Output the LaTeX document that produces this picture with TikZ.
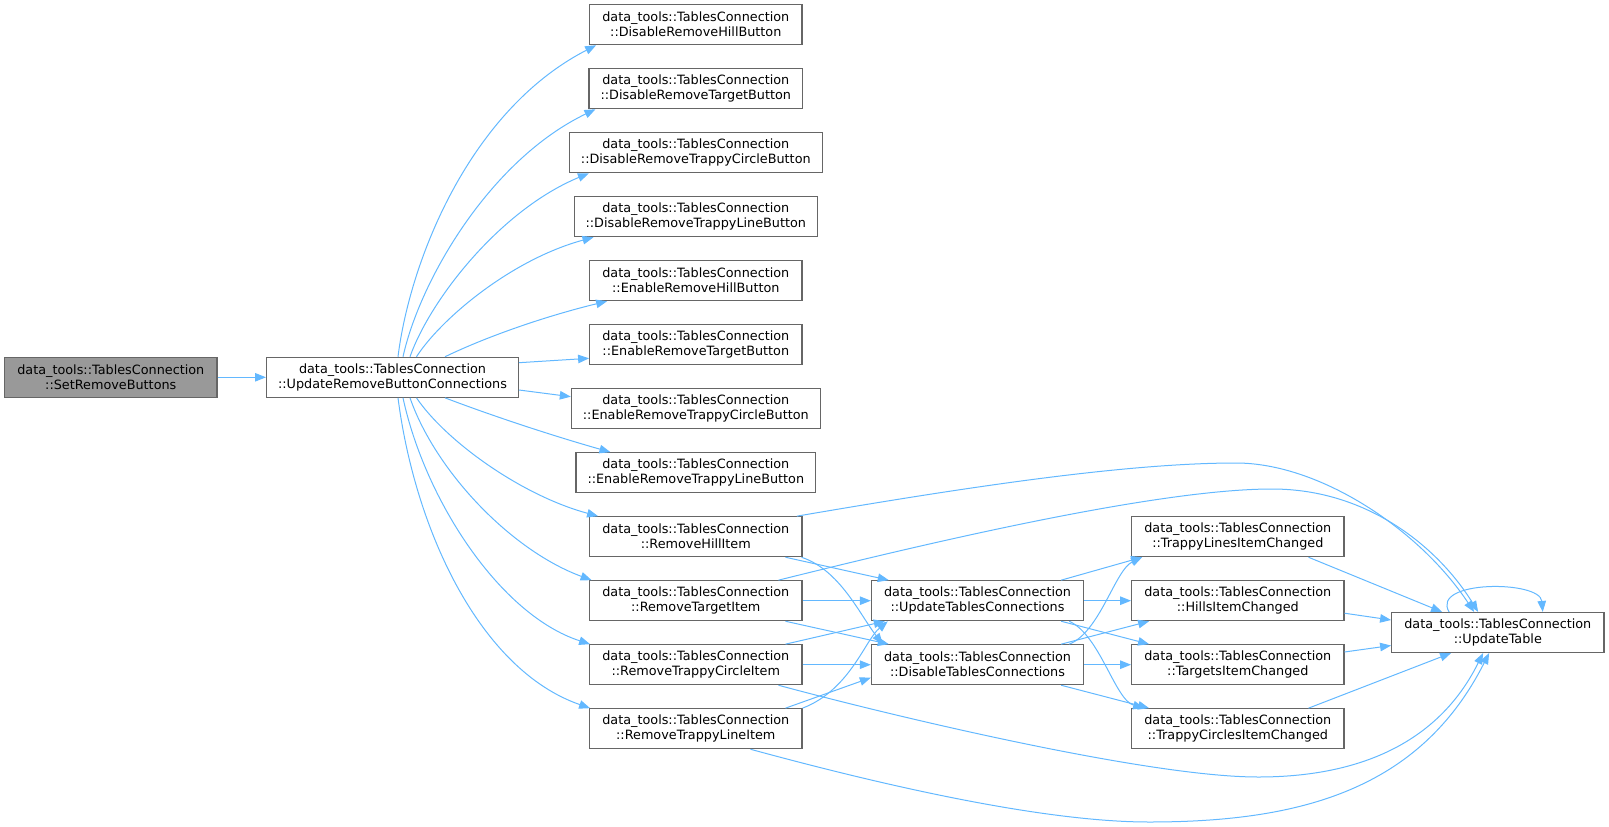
\documentclass[tikz,border=0pt]{standalone}
\usepackage{fontspec}
\setmainfont{DejaVu Sans}
\usetikzlibrary{arrows.meta,calc}

\definecolor{edgeblue}{HTML}{63B8FF}
\definecolor{boxline}{HTML}{666666}
\definecolor{boxfill}{HTML}{999999}
\newcommand{\fnsize}{\fontsize{12.8}{15}\selectfont}

\tikzset{
  fn/.style={draw=boxline, fill=white, line width=1.1pt, align=center, font=\fnsize,
    inner xsep=11.5pt, inner ysep=0pt, minimum width=212.3pt, minimum height=40pt},
  fnroot/.style={fn, fill=boxfill},
  call/.style={draw=edgeblue, line width=1pt, -{Triangle[length=11pt,width=8.5pt]}},
}

\begin{document}
\begin{tikzpicture}[x=1pt,y=-1pt]
        \useasboundingbox (0,0) rectangle (1609,827);
        
        % Caller and first callee
        \node [fnroot] (setrm) at (110.8,377.3) {data\_tools::TablesConnection\\::SetRemoveButtons};%
        \node [fn] (updrbc) at (392.5,377.3) {data\_tools::TablesConnection\\::UpdateRemoveButtonConnections};%
        
        % Column of buttons and items
        \node [fn] (drhill) at (695.8,24.7) {data\_tools::TablesConnection\\::DisableRemoveHillButton};%
        \node [fn] (drtgt) at (695.8,88.7) {data\_tools::TablesConnection\\::DisableRemoveTargetButton};%
        \node [fn] (drtc) at (695.8,152.7) {data\_tools::TablesConnection\\::DisableRemoveTrappyCircleButton};%
        \node [fn] (drtl) at (695.8,216.7) {data\_tools::TablesConnection\\::DisableRemoveTrappyLineButton};%
        \node [fn] (erhill) at (695.8,280.7) {data\_tools::TablesConnection\\::EnableRemoveHillButton};%
        \node [fn] (ertgt) at (695.8,344.7) {data\_tools::TablesConnection\\::EnableRemoveTargetButton};%
        \node [fn] (ertc) at (695.8,408.7) {data\_tools::TablesConnection\\::EnableRemoveTrappyCircleButton};%
        \node [fn] (ertl) at (695.8,472.7) {data\_tools::TablesConnection\\::EnableRemoveTrappyLineButton};%
        \node [fn] (rhill) at (695.8,536.7) {data\_tools::TablesConnection\\::RemoveHillItem};%
        \node [fn] (rtgt) at (695.8,600.7) {data\_tools::TablesConnection\\::RemoveTargetItem};%
        \node [fn] (rtc) at (695.8,664.7) {data\_tools::TablesConnection\\::RemoveTrappyCircleItem};%
        \node [fn] (rtl) at (695.8,728.7) {data\_tools::TablesConnection\\::RemoveTrappyLineItem};%
        
        % Table connections
        \node [fn] (uptc) at (977.5,600.7) {data\_tools::TablesConnection\\::UpdateTablesConnections};%
        \node [fn] (dtc) at (977.5,664.7) {data\_tools::TablesConnection\\::DisableTablesConnections};%
        
        % Item changed handlers
        \node [fn] (tlc) at (1237.8,536.7) {data\_tools::TablesConnection\\::TrappyLinesItemChanged};%
        \node [fn] (hic) at (1237.8,600.7) {data\_tools::TablesConnection\\::HillsItemChanged};%
        \node [fn] (tic) at (1237.8,664.7) {data\_tools::TablesConnection\\::TargetsItemChanged};%
        \node [fn] (tcc) at (1237.8,728.7) {data\_tools::TablesConnection\\::TrappyCirclesItemChanged};%
        
        % Table update
        \node [fn] (updt) at (1497.8,632.5) {data\_tools::TablesConnection\\::UpdateTable};%
        
        % Calls from SetRemoveButtons
        \draw [call] (setrm.east) -- (updrbc.west);%
        
        % Calls from UpdateRemoveButtonConnections, upwards
        \draw [call] ($(updrbc.north)+(5.5,0)$) .. controls (410,260) and (470,110) .. ($(drhill.south west)+(7,0)$);%
        \draw [call] ($(updrbc.north)+(10.5,0)$) .. controls (420,280) and (490,160) .. ($(drtgt.south west)+(7,0)$);%
        \draw [call] ($(updrbc.north)+(17.5,0)$) .. controls (430,300) and (500,210) .. ($(drtc.south west)+(20,0)$);%
        \draw [call] ($(updrbc.north)+(24,0)$) .. controls (440,320) and (510,260) .. ($(drtl.south west)+(20,0)$);%
        \draw [call] ($(updrbc.north)+(52.5,0)$) .. controls (490,335) and (550,315) .. ($(erhill.south west)+(18,0)$);%
        
        % Calls from UpdateRemoveButtonConnections, sideways
        \draw [call] ($(updrbc.east)+(0,-14.6)$) -- ($(ertgt.west)+(0,13.6)$);%
        \draw [call] ($(updrbc.east)+(0,12.7)$) -- ($(ertc.west)+(0,-12)$);%
        
        % Calls from UpdateRemoveButtonConnections, downwards
        \draw [call] ($(updrbc.south)+(52.5,0)$) .. controls (490,415) and (550,435) .. ($(ertl.north west)+(35,0)$);%
        \draw [call] ($(updrbc.south)+(24,0)$) .. controls (445,440) and (520,495) .. ($(rhill.north west)+(9,0)$);%
        \draw [call] ($(updrbc.south)+(17.5,0)$) .. controls (435,470) and (510,550) .. ($(rtgt.north west)+(2.5,0)$);%
        \draw [call] ($(updrbc.south)+(10.5,0)$) .. controls (425,500) and (500,615) .. ($(rtc.north west)+(1,0)$);%
        \draw [call] ($(updrbc.south)+(5.5,0)$) .. controls (415,530) and (480,670) .. ($(rtl.north west)+(1,0)$);%
        
        % Calls from RemoveHillItem
        \draw [call] ($(rhill.north east)+(-5.6,0)$) .. controls (950,490) and (1120,463) .. (1236,463) .. controls (1320,463) and (1420,530) .. ($(updt.north west)+(83,0)$);%
        \draw [call] ($(rhill.south east)+(-17,0)$) -- ($(uptc.north west)+(18,0)$);%
        \draw [call] ($(rhill.south east)+(-1,0)$) .. controls (840,570) and (860,615) .. ($(dtc.north west)+(12,0)$);%
        
        % Calls from RemoveTargetItem
        \draw [call] ($(rtgt.north east)+(-24,0)$) .. controls (900,550) and (1150,489) .. (1272,489) .. controls (1370,489) and (1440,550) .. ($(updt.north west)+(87,0)$);%
        \draw [call] (rtgt.east) -- (uptc.west);%
        \draw [call] ($(rtgt.south east)+(-17,0)$) -- ($(dtc.north west)+(18,0)$);%
        
        % Calls from RemoveTrappyCircleItem
        \draw [call] ($(rtc.north east)+(-17,0)$) -- ($(uptc.south west)+(14,0)$);%
        \draw [call] (rtc.east) -- (dtc.west);%
        \draw [call] ($(rtc.south east)+(-24,0)$) .. controls (900,718) and (1150,777) .. (1258,777) .. controls (1330,777) and (1430,760) .. ($(updt.south west)+(92,0)$);%
        
        % Calls from RemoveTrappyLineItem
        \draw [call] (rtl.north east) .. controls (850,690) and (865,640) .. ($(uptc.south west)+(17,0)$);%
        \draw [call] ($(rtl.north east)+(-17,0)$) -- ($(dtc.west)+(0,13)$);%
        \draw [call] ($(rtl.south east)+(-52,0)$) .. controls (900,790) and (1050,822) .. (1149,822) .. controls (1300,822) and (1420,790) .. ($(updt.south west)+(98,0)$);%
        
        % Calls from UpdateTablesConnections
        \draw [call] ($(uptc.north east)+(-23,0)$) -- ($(tlc.south west)+(11,0)$);%
        \draw [call] (uptc.east) -- (hic.west);%
        \draw [call] ($(uptc.south east)+(-23,0)$) -- ($(tic.north west)+(18,0)$);%
        \draw [call] ($(uptc.south east)+(-15,0)$) .. controls (1100,635) and (1115,700) .. ($(tcc.north west)+(13,0)$);%
        
        % Calls from DisableTablesConnections
        \draw [call] ($(dtc.north east)+(-15,0)$) .. controls (1100,632) and (1115,570) .. ($(tlc.south west)+(11,0)$);%
        \draw [call] ($(dtc.north east)+(-23,0)$) -- ($(hic.south west)+(18,0)$);%
        \draw [call] (dtc.east) -- (tic.west);%
        \draw [call] ($(dtc.south east)+(-23,0)$) -- ($(tcc.north west)+(18,0)$);%
        
        % Calls into UpdateTable
        \draw [call] ($(tlc.south east)+(-36,0)$) -- ($(updt.north west)+(51,0)$);%
        \draw [call] ($(hic.east)+(0,12.5)$) -- ($(updt.west)+(0,-12.5)$);%
        \draw [call] ($(tic.east)+(0,-12.7)$) -- ($(updt.west)+(0,13)$);%
        \draw [call] ($(tcc.north east)+(-36,0)$) -- ($(updt.south west)+(60,0)$);%
        
        % UpdateTable calls itself
        \draw [call] ($(updt.north west)+(58,0)$) .. controls (1430,580) and (1540,580) .. ($(updt.north west)+(151.6,0)$);%
\end{tikzpicture}
\end{document}
